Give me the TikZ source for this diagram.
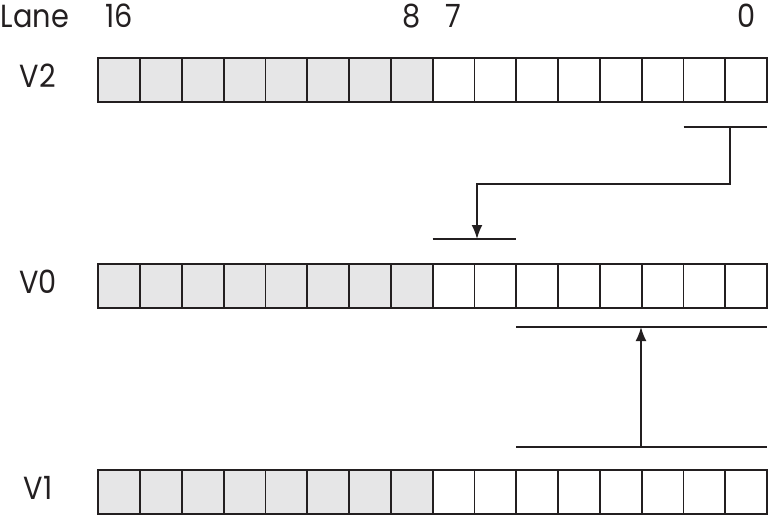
\documentclass[tikz,border=0pt]{standalone}
\usepackage{fontspec}
\setmainfont{Poppins}
\usetikzlibrary{arrows.meta}
\definecolor{ink}{HTML}{231F20}
\definecolor{lanegray}{HTML}{E6E6E7}

\begin{document}
\begin{tikzpicture}[x=1pt, y=-1pt,
  cell/.style={draw=ink, line width=1.8pt, minimum width=41.8pt, minimum height=44pt, inner sep=0pt, outer sep=0pt},
  hi/.style={cell, fill=lanegray},
  lbl/.style={text=ink, font=\fontsize{32}{36}\selectfont, inner sep=0pt, xscale=0.9},
  wire/.style={draw=ink, line width=1.8pt},
  arr/.style={wire, -{Latex[length=14pt,width=11pt]}}]
\useasboundingbox (0,0) rectangle (769,517);
% Draw registers
\foreach \r/\y in {v2/80, v0/286, v1/492} {
  \foreach \i in {0,...,7}
    \node[cell] (\r-\i) at ({767-(\i+0.5)*41.8},\y) {};
  \foreach \i in {8,...,15}
    \node[hi] (\r-\i) at ({767-(\i+0.5)*41.8},\y) {};
}
% Draw labels
\coordinate (top) at (0,27);
\node[lbl, anchor=base west] (lane) at (0.5,27) {Lane};
\node[lbl, anchor=base] (n16) at (v2-15 |- top) {16};
\node[lbl, anchor=base] (n8) at (v2-8 |- top) {8};
\node[lbl, anchor=base] (n7) at (v2-7 |- top) {7};
\node[lbl, anchor=base] (n0) at (v2-0 |- top) {0};
\node[lbl] (lv2) at (38,76) {V2};
\node[lbl] (lv0) at (38,282) {V0};
\node[lbl] (lv1) at (38,488) {V1};
% Draw brackets
\coordinate (b1l) at (683.6,127); \coordinate (b1r) at (767,127); \coordinate (b1m) at (730,127);
\coordinate (b2l) at (432.7,239); \coordinate (b2r) at (516.3,239); \coordinate (b2m) at (477,239);
\coordinate (b3l) at (516.3,327); \coordinate (b3r) at (767,327); \coordinate (b3m) at (641,327);
\coordinate (b4l) at (516.3,447); \coordinate (b4r) at (767,447); \coordinate (b4m) at (641,447);
\foreach \b in {b1,b2,b3,b4}
  \draw[wire] (\b l) -- (\b r);
% Draw moves
\draw[arr] (b1m) -- ++(0,57) -| (b2m);
\draw[arr] (b4m) -- (b3m);
\end{tikzpicture}
\end{document}
